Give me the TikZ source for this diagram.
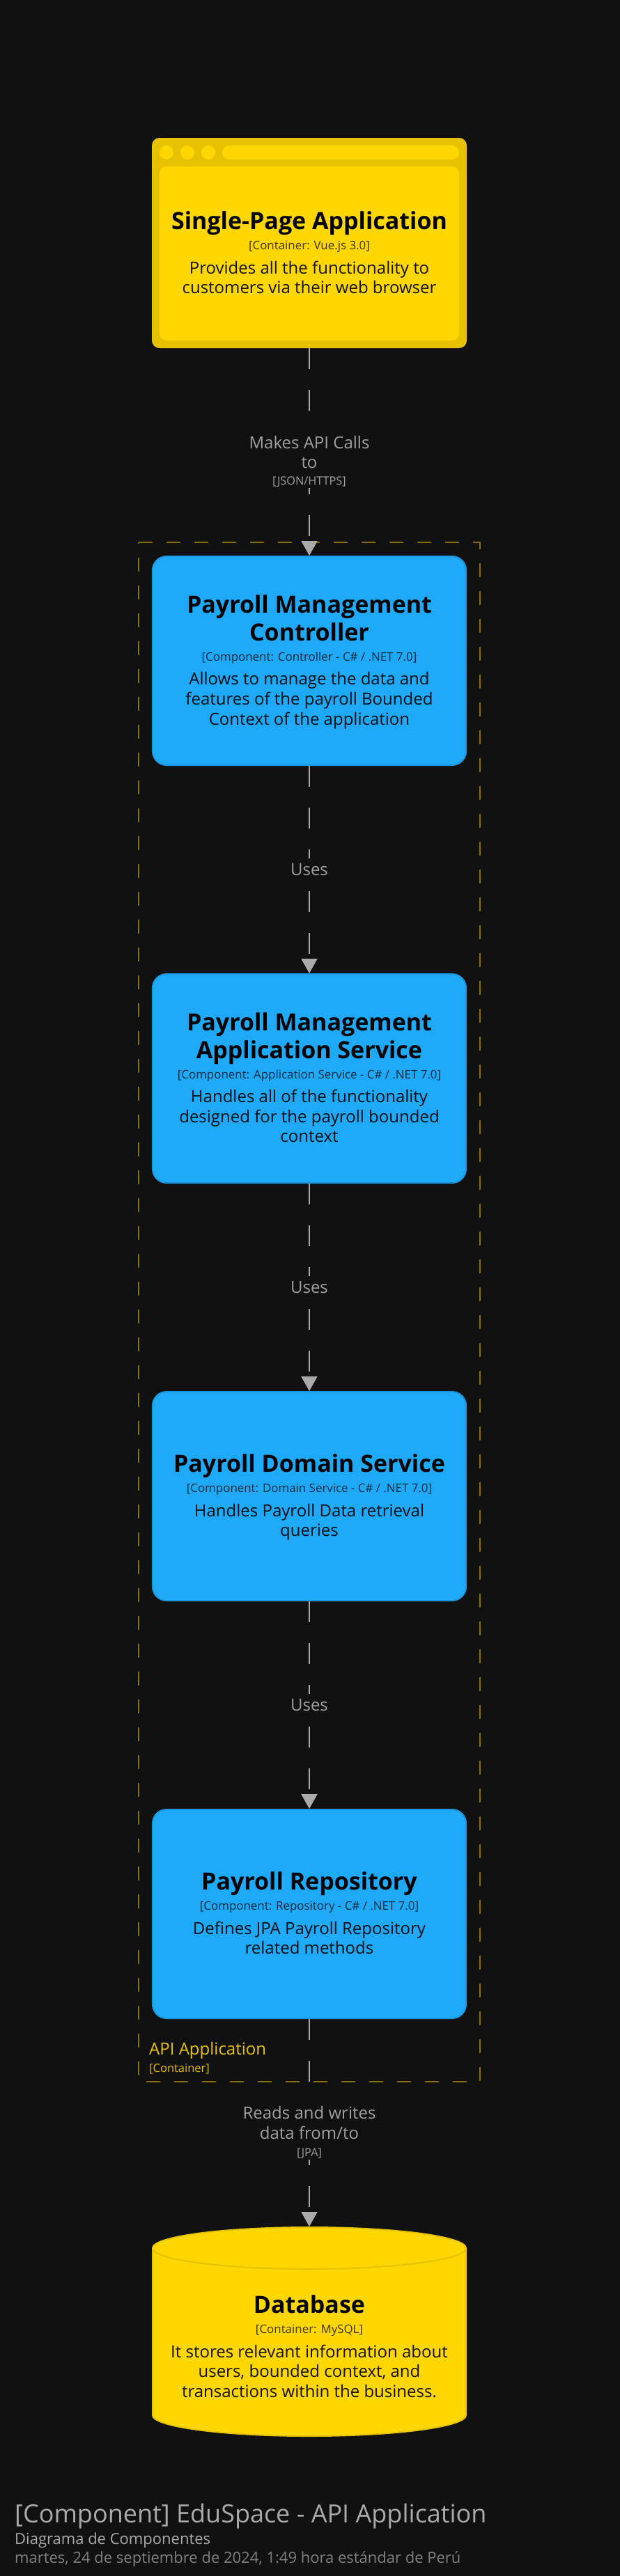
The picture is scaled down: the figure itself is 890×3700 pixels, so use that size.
\documentclass[tikz,border=0pt]{standalone}
\usepackage{fontspec}
\setmainfont{Open Sans}
\usetikzlibrary{arrows.meta}
\definecolor{bgc}{HTML}{111111}
\definecolor{yel}{HTML}{FFD700}
\definecolor{yeld}{HTML}{E6C200}
\definecolor{blu}{HTML}{1EA9F9}
\definecolor{blud}{HTML}{1B98E0}
\definecolor{frm}{HTML}{857000}
\definecolor{edgec}{HTML}{AAAAAA}
\definecolor{labc}{HTML}{A0A0A0}
\newcommand\fs[1]{\fontsize{#1}{#1}\selectfont}
\tikzset{
  x=1pt,y=-1pt,
  boxbase/.style={rectangle,minimum width=450pt,minimum height=300pt,line width=2pt,inner sep=0pt},
  compbox/.style={boxbase,fill=blu,draw=blud,rounded corners=20pt},
  webbox/.style={boxbase,fill=yeld,draw=yeld,rounded corners=10pt},
  dbanchor/.style={rectangle,minimum width=450pt,minimum height=300pt,line width=2pt,inner sep=0pt},
  line/.style={anchor=base,inner sep=0pt,text=black},
  ttl/.style={line,font=\fs{34}\bfseries},
  meta/.style={line,font=\fs{16.9},text opacity=.75},
  desc/.style={line,font=\fs{24},text opacity=.92},
  elab/.style={line,font=\fs{24},text=labc},
  emeta/.style={line,font=\fs{16.3},text=labc},
  edge/.style={draw=edgec,line width=2pt,dash pattern=on 30pt off 30pt,-{Triangle[length=21pt,width=23pt]}},
  bound/.style={draw=frm,line width=2pt,dash pattern=on 20pt off 20pt},
}
\begin{document}
\begin{tikzpicture}
\fill[bgc] (0,0) rectangle (890,3700);
\useasboundingbox (0,0) rectangle (890,3700);
% boundary
\draw[bound] (199,779) -- (689,779) -- (689,2990) -- (199,2990) -- cycle;
\node[anchor=base west,inner sep=0pt,text=yeld,font=\fs{24}] (bname) at (214,2951) {API Application};
\node[anchor=base west,inner sep=0pt,text=yeld,font=\fs{16.5}] (bmeta) at (214,2976) {[Container]};
% SPA
\node[webbox] (spa) at (444,349) {};
\fill[yel,rounded corners=10pt] (229,239) rectangle (659,489);
\fill[yel,rounded corners=10pt] (319,209) rectangle (659,229);
\fill[yel] (239,219) circle (10);
\fill[yel] (269,219) circle (10);
\fill[yel] (299,219) circle (10);
\node[ttl] (spat) at (444,329) {Single-Page Application};
\node[meta] (spam) at (444,358) {[Container: Vue.js 3.0]};
\node[desc] (spad1) at (444,393) {Provides all the functionality to};
\node[desc] (spad2) at (444,421) {customers via their web browser};
% Controller
\node[compbox] (ctrl) at (444,949) {};
\node[ttl] (ctrlt1) at (444,880) {Payroll Management};
\node[ttl] (ctrlt2) at (444,920) {Controller};
\node[meta] (ctrlm) at (444,949) {[Component: Controller - C\# / .NET 7.0]};
\node[desc] (ctrld1) at (444,983.5) {Allows to manage the data and};
\node[desc] (ctrld2) at (444,1012) {features of the payroll Bounded};
\node[desc] (ctrld3) at (444,1041) {Context of the application};
% App service
\node[compbox] (app) at (444,1549) {};
\node[ttl] (appt1) at (444,1480) {Payroll Management};
\node[ttl] (appt2) at (444,1520) {Application Service};
\node[meta] (appm) at (444,1549) {[Component: Application Service - C\# / .NET 7.0]};
\node[desc] (appd1) at (444,1583) {Handles all of the functionality};
\node[desc] (appd2) at (444,1612) {designed for the payroll bounded};
\node[desc] (appd3) at (444,1640.5) {context};
% Domain
\node[compbox] (dom) at (444,2149) {};
\node[ttl] (domt) at (444,2114) {Payroll Domain Service};
\node[meta] (domm) at (444,2143) {[Component: Domain Service - C\# / .NET 7.0]};
\node[desc] (domd1) at (444,2178) {Handles Payroll Data retrieval};
\node[desc] (domd2) at (444,2206) {queries};
% Repo
\node[compbox] (repo) at (444,2749) {};
\node[ttl] (repot) at (444,2714) {Payroll Repository};
\node[meta] (repom) at (444,2743) {[Component: Repository - C\# / .NET 7.0]};
\node[desc] (repod1) at (444,2778) {Defines JPA Payroll Repository};
\node[desc] (repod2) at (444,2806) {related methods};
% Database
\node[dbanchor] (db) at (444,3349) {};
\draw[fill=yel,draw=yeld,line width=2pt]
  (219,3229) .. controls (219,3212.4) and (319.7,3199) .. (444,3199)
  .. controls (568.3,3199) and (669,3212.4) .. (669,3229)
  -- (669,3469) .. controls (669,3485.6) and (568.3,3499) .. (444,3499)
  .. controls (319.7,3499) and (219,3485.6) .. (219,3469) -- cycle;
\draw[draw=yeld,line width=2pt]
  (219,3229) .. controls (219,3245.6) and (319.7,3259) .. (444,3259)
  .. controls (568.3,3259) and (669,3245.6) .. (669,3229);
\node[ttl] (dbt) at (444,3322) {Database};
\node[meta] (dbm) at (444,3351) {[Container: MySQL]};
\node[desc] (dbd1) at (444,3386) {It stores relevant information about};
\node[desc] (dbd2) at (444,3414) {users, bounded context, and};
\node[desc] (dbd3) at (444,3443) {transactions within the business.};
% connectors
\draw[edge] (spa.south) -- (ctrl.north);
\draw[edge] (ctrl.south) -- (app.north);
\draw[edge] (app.south) -- (dom.north);
\draw[edge] (dom.south) -- (repo.north);
\draw[edge] (repo.south) -- (db.north);
% connector labels
\fill[bgc] (350,612) rectangle (538,701);
\node[elab] (e1a) at (444,644) {Makes API Calls};
\node[elab] (e1b) at (444,672) {to};
\node[emeta] (e1c) at (444,696.5) {[JSON/HTTPS]};
\fill[bgc] (410,1233) rectangle (478,1279);
\node[elab] (e2) at (444,1257) {Uses};
\fill[bgc] (410,1833) rectangle (478,1879);
\node[elab] (e3) at (444,1857) {Uses};
\fill[bgc] (410,2433) rectangle (478,2479);
\node[elab] (e4) at (444,2457) {Uses};
\fill[bgc] (340,3010) rectangle (548,3102);
\node[elab] (e5a) at (444,3043) {Reads and writes};
\node[elab] (e5b) at (444,3072) {data from/to};
\node[emeta] (e5c) at (444,3097) {[JPA]};
% diagram title
\node[anchor=base west,inner sep=0pt,text=edgec,font=\fs{36}] (title) at (21,3623) {[Component] EduSpace - API Application};
\node[anchor=base west,inner sep=0pt,text=edgec,font=\fs{22}] (sub) at (21,3654) {Diagrama de Componentes};
\node[anchor=base west,inner sep=0pt,text=gray,font=\fs{22}] (date) at (21,3681) {martes, 24 de septiembre de 2024, 1:49 hora estándar de Perú};
\end{tikzpicture}
\end{document}
